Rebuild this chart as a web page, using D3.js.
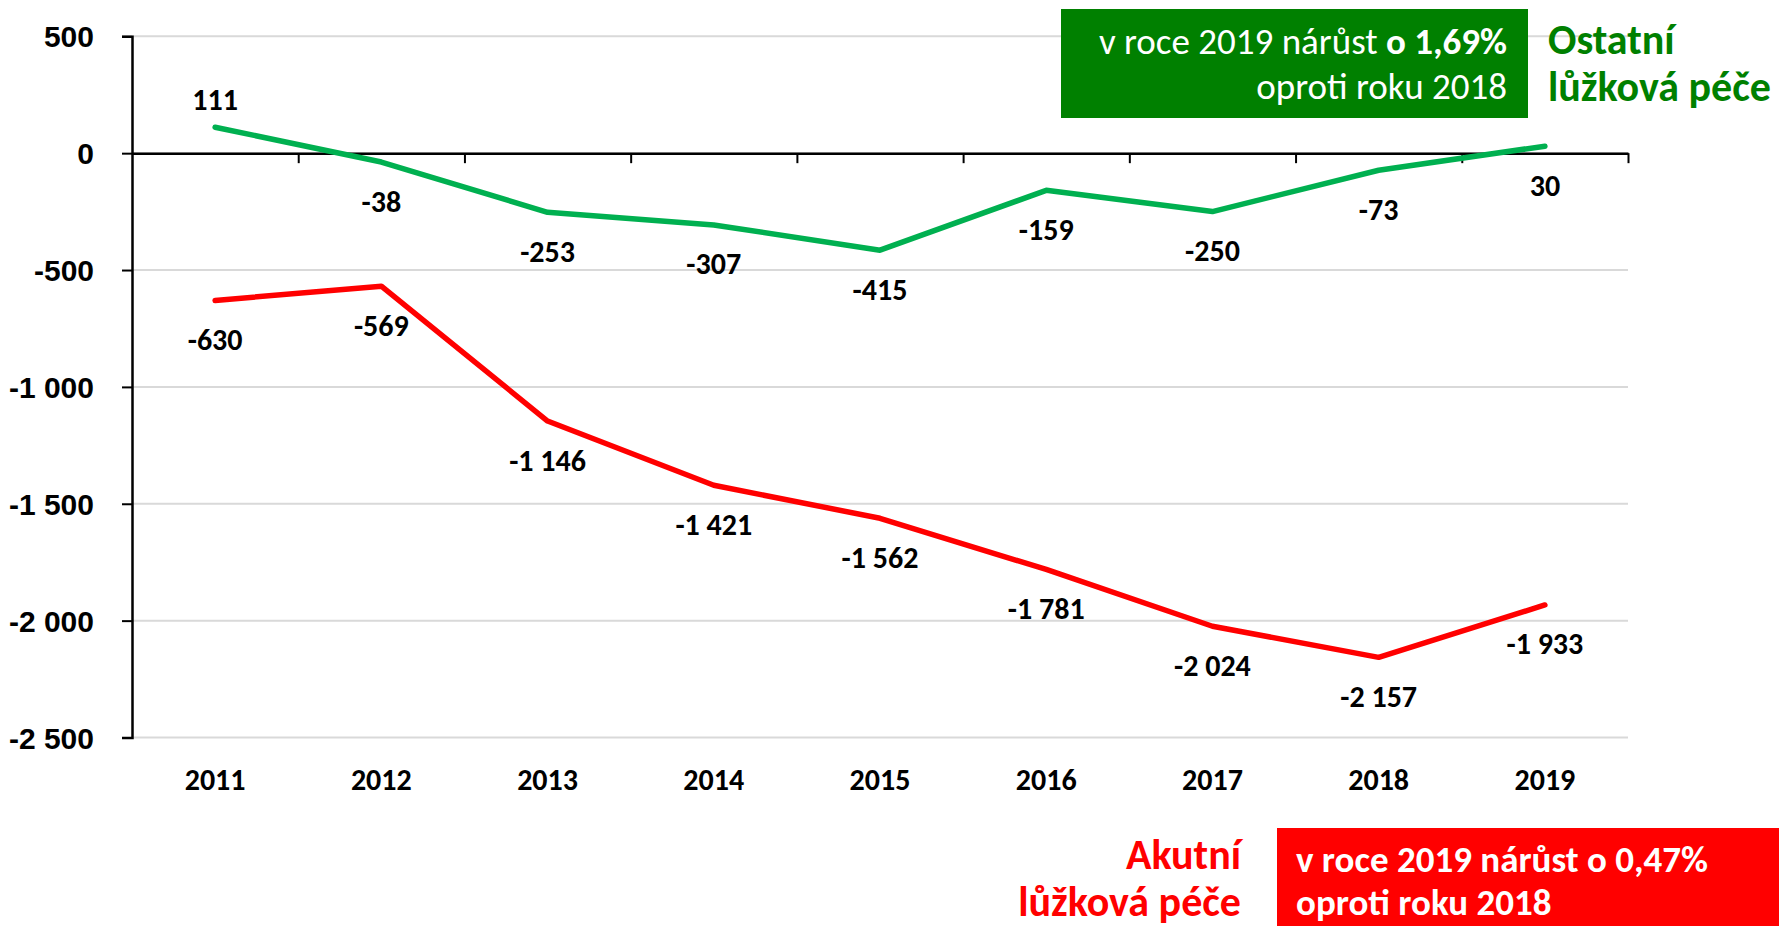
<!DOCTYPE html>
<html>
<head>
<meta charset="utf-8">
<script src="https://cdn.jsdelivr.net/npm/d3@7"></script>
<style>
  body { margin: 0; background: #fff; }
  svg { display: block; font-family: Carlito, Calibri, Lato, sans-serif; }
</style>
</head>
<body>
<svg id="chart" width="1779" height="926"></svg>
<script>
// data
var years = ["2011", "2012", "2013", "2014", "2015", "2016", "2017", "2018", "2019"];
var ostatni = [111, -38, -253, -307, -415, -159, -250, -73, 30];
var akutni = [-630, -569, -1146, -1421, -1562, -1781, -2024, -2157, -1933];
var yTicks = [500, 0, -500, -1000, -1500, -2000, -2500];

var greenNote = ["v roce 2019 nárůst ", "o 1,69%", "oproti roku 2018"];
var redNote = ["v roce 2019 nárůst o 0,47%", "oproti roku 2018"];
var greenName = ["Ostatní", "lůžková péče"];
var redName = ["Akutní", "lůžková péče"];

var svg = d3.select("#chart");

var plot = {left: 132, right: 1628, top: 36.3, bottom: 737.5};
var labelSize = 30;

var cz = d3.formatLocale({decimal: ",", thousands: " ", grouping: [3], currency: ["", " Kč"], minus: "-"});
var fmt = cz.format(",d");

var x = d3.scaleBand().domain(years).range([plot.left, plot.right]);
var xi = d3.scaleLinear().domain([0, years.length]).range([plot.left, plot.right]);
var y = d3.scaleLinear().domain([-2500, 500]).range([plot.bottom, plot.top]);

var cx = function (d, i) { return x(years[i]) + x.bandwidth() / 2; };

// gridlines
svg.append("g")
  .selectAll("line")
  .data(yTicks)
  .join("line")
    .attr("x1", plot.left).attr("x2", plot.right)
    .attr("y1", function (d) { return y(d); })
    .attr("y2", function (d) { return y(d); })
    .attr("stroke", "#d9d9d9")
    .attr("stroke-width", 2);

// y axis
var yAxis = svg.append("g")
  .attr("transform", "translate(" + plot.left + ",0)")
  .call(d3.axisLeft(y).tickValues(yTicks).tickSize(10).tickPadding(28).tickFormat(fmt));
yAxis.select(".domain").attr("stroke", "#000").attr("stroke-width", 2.5);
yAxis.selectAll(".tick line").attr("stroke", "#000").attr("stroke-width", 2);
yAxis.selectAll(".tick text")
  .attr("dy", "0.35em")
  .attr("font-size", labelSize).attr("font-weight", "bold").attr("fill", "#000");

// x axis at zero, ticks between categories
var xAxis = svg.append("g")
  .attr("transform", "translate(0," + y(0) + ")")
  .call(d3.axisBottom(xi).tickValues(d3.range(1, years.length + 1)).tickSize(10).tickSizeOuter(0).tickFormat(""));
xAxis.select(".domain").attr("stroke", "#000").attr("stroke-width", 2.5);
xAxis.selectAll(".tick line").attr("stroke", "#000").attr("stroke-width", 2);

// category labels at the bottom
svg.append("g")
  .selectAll("text")
  .data(years)
  .join("text")
    .attr("x", function (d) { return x(d) + x.bandwidth() / 2; })
    .attr("y", 790)
    .attr("text-anchor", "middle")
    .attr("font-size", labelSize).attr("font-weight", "bold")
    .text(function (d) { return d; });

// lines
var line = d3.line().x(cx).y(function (d) { return y(d); });

function drawSeries(values, color, aboveFirst) {
  svg.append("path")
    .datum(values)
    .attr("d", line)
    .attr("fill", "none")
    .attr("stroke", color)
    .attr("stroke-width", 5.5)
    .attr("stroke-linejoin", "round")
    .attr("stroke-linecap", "round");

  svg.append("g")
    .selectAll("text")
    .data(values)
    .join("text")
      .attr("x", cx)
      .attr("y", function (d, i) { return y(d) + ((aboveFirst && i === 0) ? -28 : 39); })
      .attr("dy", "0.35em")
      .attr("text-anchor", "middle")
      .attr("font-size", labelSize).attr("font-weight", "bold")
      .text(function (d) { return fmt(d); });
}

drawSeries(ostatni, "#00b050", true);
drawSeries(akutni, "#ff0000", false);

// green note box
svg.append("rect")
  .attr("x", 1061).attr("y", 9).attr("width", 467).attr("height", 109)
  .attr("fill", "#008000");
var g1 = svg.append("text")
  .attr("x", 1507).attr("y", 54)
  .attr("text-anchor", "end").attr("fill", "#fff").attr("font-size", 37);
g1.append("tspan").text(greenNote[0]);
g1.append("tspan").attr("font-weight", "bold").text(greenNote[1]);
svg.append("text")
  .attr("x", 1507).attr("y", 99)
  .attr("text-anchor", "end").attr("fill", "#fff").attr("font-size", 37)
  .text(greenNote[2]);

svg.append("g")
  .selectAll("text")
  .data(greenName)
  .join("text")
    .attr("x", 1548)
    .attr("y", function (d, i) { return 54 + i * 47; })
    .attr("fill", "#008000").attr("font-size", 42).attr("font-weight", "bold")
    .text(function (d) { return d; });

// red note box
svg.append("rect")
  .attr("x", 1277).attr("y", 828).attr("width", 502).attr("height", 98)
  .attr("fill", "#ff0000");
svg.append("g")
  .selectAll("text")
  .data(redNote)
  .join("text")
    .attr("x", 1296)
    .attr("y", function (d, i) { return 872 + i * 43; })
    .attr("fill", "#fff").attr("font-size", 37).attr("font-weight", "bold")
    .text(function (d) { return d; });

svg.append("g")
  .selectAll("text")
  .data(redName)
  .join("text")
    .attr("x", 1241)
    .attr("y", function (d, i) { return 869 + i * 47; })
    .attr("text-anchor", "end")
    .attr("fill", "#ff0000").attr("font-size", 42).attr("font-weight", "bold")
    .text(function (d) { return d; });
</script>
</body>
</html>
